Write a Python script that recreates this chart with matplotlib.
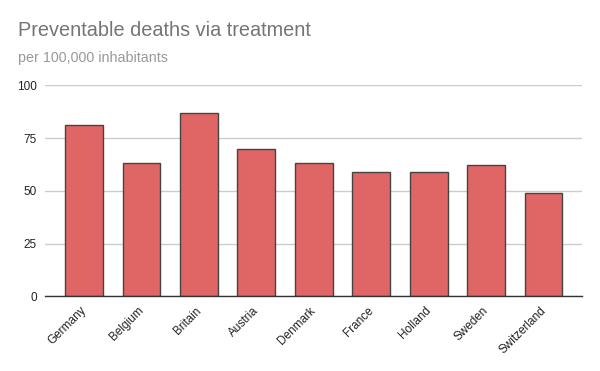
import matplotlib
matplotlib.use("Agg")
import matplotlib.pyplot as plt
from matplotlib.transforms import ScaledTranslation

countries = ["Germany", "Belgium", "Britain", "Austria", "Denmark", "France", "Holland", "Sweden", "Switzerland"]
deaths = [81, 63, 87, 70, 63, 59, 59, 62, 49]
yticks = [0, 25, 50, 75, 100]

plt.rcParams['font.family'] = ['Liberation Sans', 'DejaVu Sans']

fig = plt.figure(figsize=(6, 3.71), dpi=100)
ax = fig.add_axes([45/600, 1-296.3/371, 537/600, (296.3-85.3)/371])

x = list(range(len(countries)))
ax.bar(x, deaths, width=0.66, color="#e06666", edgecolor="#444444", linewidth=1.0, zorder=3)

ax.set_xlim(-0.68, len(countries) - 1 + 0.67)
ax.set_ylim(0, 100)
ax.set_yticks(yticks)
ax.set_yticklabels([str(v) for v in yticks], fontsize=8.5, color="#222222")
ax.yaxis.grid(True, color="#cccccc", linewidth=1, zorder=0)
ax.set_axisbelow(True)
ax.tick_params(axis='y', length=0, pad=6)
ax.tick_params(axis='x', length=0, pad=6)
ax.set_xticks(x)
ax.set_xticklabels(countries, rotation=45, ha="right", rotation_mode="anchor", fontsize=8.5, color="#222222")
offset = ScaledTranslation(-4/100, 0, fig.dpi_scale_trans)
for lbl in ax.get_xticklabels():
    lbl.set_transform(lbl.get_transform() + offset)
for s in ["top", "right", "left"]:
    ax.spines[s].set_visible(False)
ax.spines["bottom"].set_color("#333333")
ax.spines["bottom"].set_linewidth(1)
ax.spines["bottom"].set_zorder(4)

fig.text(18/600, 1-31/371, "Preventable deaths via treatment", fontsize=14.3, color="#757575", va="center", ha="left")
fig.text(18/600, 1-58/371, "per 100,000 inhabitants", fontsize=10.3, color="#999999", va="center", ha="left")

fig.savefig("out.png", dpi=100, facecolor="white")
